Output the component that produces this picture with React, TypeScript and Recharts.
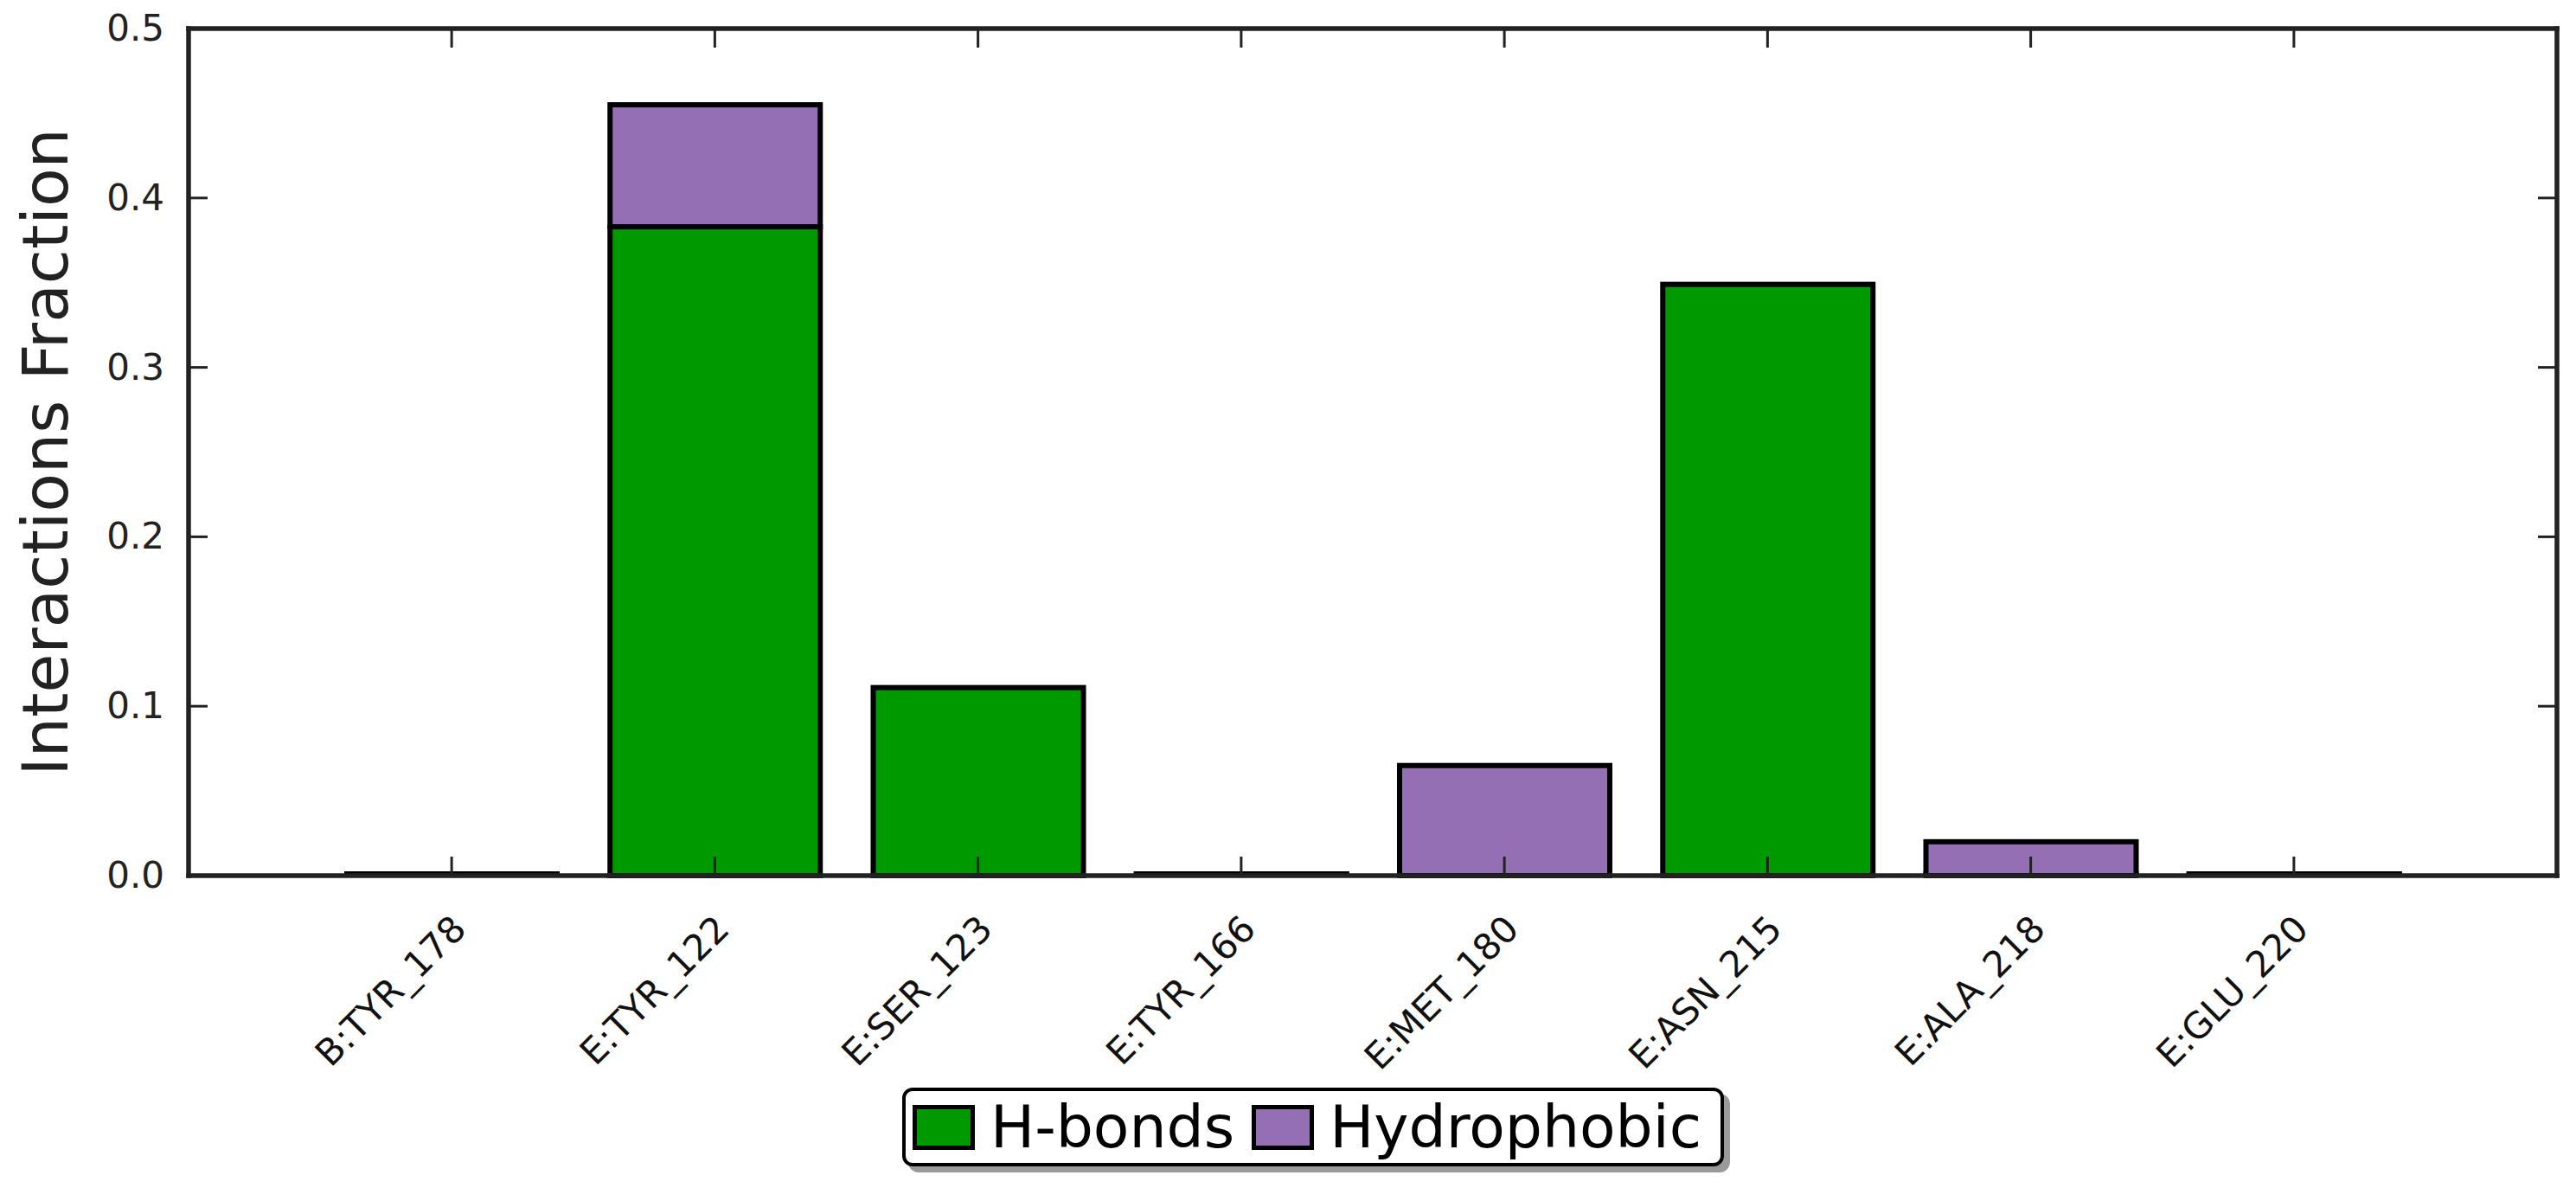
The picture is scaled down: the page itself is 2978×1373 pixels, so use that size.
import React from 'react';
import { ComposedChart, Bar, Line, XAxis, YAxis, Legend } from 'recharts';

// ---- data ----
const residues = ['B:TYR_178', 'E:TYR_122', 'E:SER_123', 'E:TYR_166', 'E:MET_180', 'E:ASN_215', 'E:ALA_218', 'E:GLU_220'];
const hBonds = [0, 0.383, 0.111, 0, 0, 0.349, 0, 0];
const hydrophobic = [0, 0.072, 0, 0, 0.065, 0, 0.02, 0];
const yTicks = [0, 0.1, 0.2, 0.3, 0.4, 0.5];
const seriesNames = ['H-bonds', 'Hydrophobic'];
const yLabel = 'Interactions Fraction';

const data = residues.map((name, i) => ({ name, hb: hBonds[i], hp: hydrophobic[i] }));

const FONT = 'DejaVu Sans';
const INK = '#222';
const GREEN = '#009900';
const PURPLE = '#946fb4';

const BarShape = (props: any) => {
  const { x, y, width, height, fill, value } = props;
  if (!height || Math.abs(height) < 0.5) {
    const lo = Array.isArray(value) ? value[0] : 0;
    if (lo !== 0) return <g />;
    return <line x1={x - 3} x2={x + width + 3} y1={y - 2} y2={y - 2} stroke="#000" strokeWidth={6} />;
  }
  return <rect x={x} y={y} width={width} height={height} fill={fill} stroke="#000" strokeWidth={6} />;
};

const LeftTick = (p: any) => (
  <g>
    <line x1={p.x} x2={p.x + 22} y1={p.y} y2={p.y} stroke={INK} strokeWidth={3} />
    <text x={p.x - 28} y={p.y + 14} textAnchor="end" fontSize={42} fill={INK} fontFamily={FONT}>
      {Number(p.payload.value).toFixed(1)}
    </text>
  </g>
);

const RightTick = (p: any) => (
  <line x1={p.x - 22} x2={p.x} y1={p.y} y2={p.y} stroke={INK} strokeWidth={3} />
);

const BottomTick = (p: any) => {
  const tx = p.x + 19;
  const ty = p.y + 64;
  return (
    <g>
      <line x1={p.x} x2={p.x} y1={p.y} y2={p.y - 22} stroke={INK} strokeWidth={3} />
      <text x={tx} y={ty} textAnchor="end" fontSize={42} fill="#111" fontFamily={FONT} transform={`rotate(-45 ${tx} ${ty})`}>
        {p.payload.value}
      </text>
    </g>
  );
};

const TopTick = (p: any) => (
  <line x1={p.x} x2={p.x} y1={p.y} y2={p.y + 22} stroke={INK} strokeWidth={3} />
);

const YLabel = (p: any) => {
  const vb = p.viewBox || { x: 118, y: 33, width: 100, height: 979 };
  const cx = vb.x - 40;
  const cy = vb.y + vb.height / 2;
  return (
    <text x={cx} y={cy} textAnchor="middle" fontSize={73} fill={INK} fontFamily={FONT} transform={`rotate(-90 ${cx} ${cy})`}>
      {yLabel}
    </text>
  );
};

const LegendContent = (props: any) => {
  const items = (props.payload || []).filter((e: any) => e.type !== 'none');
  return (
    <div
      style={{
        display: 'flex',
        alignItems: 'center',
        boxSizing: 'border-box',
        width: 950,
        height: 91,
        border: '4px solid #000',
        borderRadius: 12,
        background: '#fff',
        boxShadow: '7px 7px 0 #9a9a9a',
        paddingLeft: 8,
        fontFamily: FONT,
        fontSize: 68,
        color: '#000',
      }}
    >
      {items.map((e: any, i: number) => (
        <div key={i} style={{ display: 'flex', alignItems: 'center', marginRight: 20 }}>
          <div style={{ width: 72, height: 52, boxSizing: 'border-box', border: '5px solid #000', background: e.color }} />
          <span style={{ marginLeft: 18, lineHeight: 1 }}>{e.value}</span>
        </div>
      ))}
    </div>
  );
};

const axisLine = { stroke: INK, strokeWidth: 5.5, strokeLinecap: 'square' as const };
const pad = { left: 152, right: 152 };

export default function App() {
  return (
    <div style={{ position: 'absolute', left: 0, top: 0, width: 2978, height: 1373, background: '#fff' }}>
      <ComposedChart width={2978} height={1373} data={data} margin={{ top: 32, right: 21, left: 118, bottom: 111 }}>
        <XAxis
          dataKey="name"
          height={250}
          padding={pad}
          interval={0}
          tickSize={0}
          tickMargin={0}
          tickLine={false}
          axisLine={axisLine}
          tick={<BottomTick />}
        />
        <XAxis
          xAxisId="top"
          orientation="top"
          dataKey="name"
          height={1}
          padding={pad}
          interval={0}
          tickSize={0}
          tickMargin={0}
          tickLine={false}
          axisLine={axisLine}
          tick={<TopTick />}
        />
        <YAxis
          width={100}
          type="number"
          domain={[0, 0.5]}
          ticks={yTicks}
          interval={0}
          tickSize={0}
          tickMargin={0}
          tickLine={false}
          axisLine={axisLine}
          tick={<LeftTick />}
          label={{ value: yLabel, content: (p: any) => <YLabel {...p} /> }}
        />
        <YAxis
          yAxisId="right"
          orientation="right"
          width={1}
          type="number"
          domain={[0, 0.5]}
          ticks={yTicks}
          interval={0}
          tickSize={0}
          tickMargin={0}
          tickLine={false}
          axisLine={axisLine}
          tick={<RightTick />}
        />
        <Bar dataKey="hb" name={seriesNames[0]} stackId="s" fill={GREEN} barSize={243} shape={<BarShape />} isAnimationActive={false} />
        <Bar dataKey="hp" name={seriesNames[1]} stackId="s" fill={PURPLE} barSize={243} shape={<BarShape />} isAnimationActive={false} />
        <Line
          xAxisId="top"
          yAxisId="right"
          dataKey="hb"
          stroke="none"
          dot={false}
          activeDot={false}
          legendType="none"
          isAnimationActive={false}
        />
        <Legend
          layout="horizontal"
          verticalAlign="middle"
          align="center"
          content={<LegendContent />}
          wrapperStyle={{ position: 'absolute', left: 1043, top: 1257, width: 960, height: 100 }}
        />
      </ComposedChart>
    </div>
  );
}
